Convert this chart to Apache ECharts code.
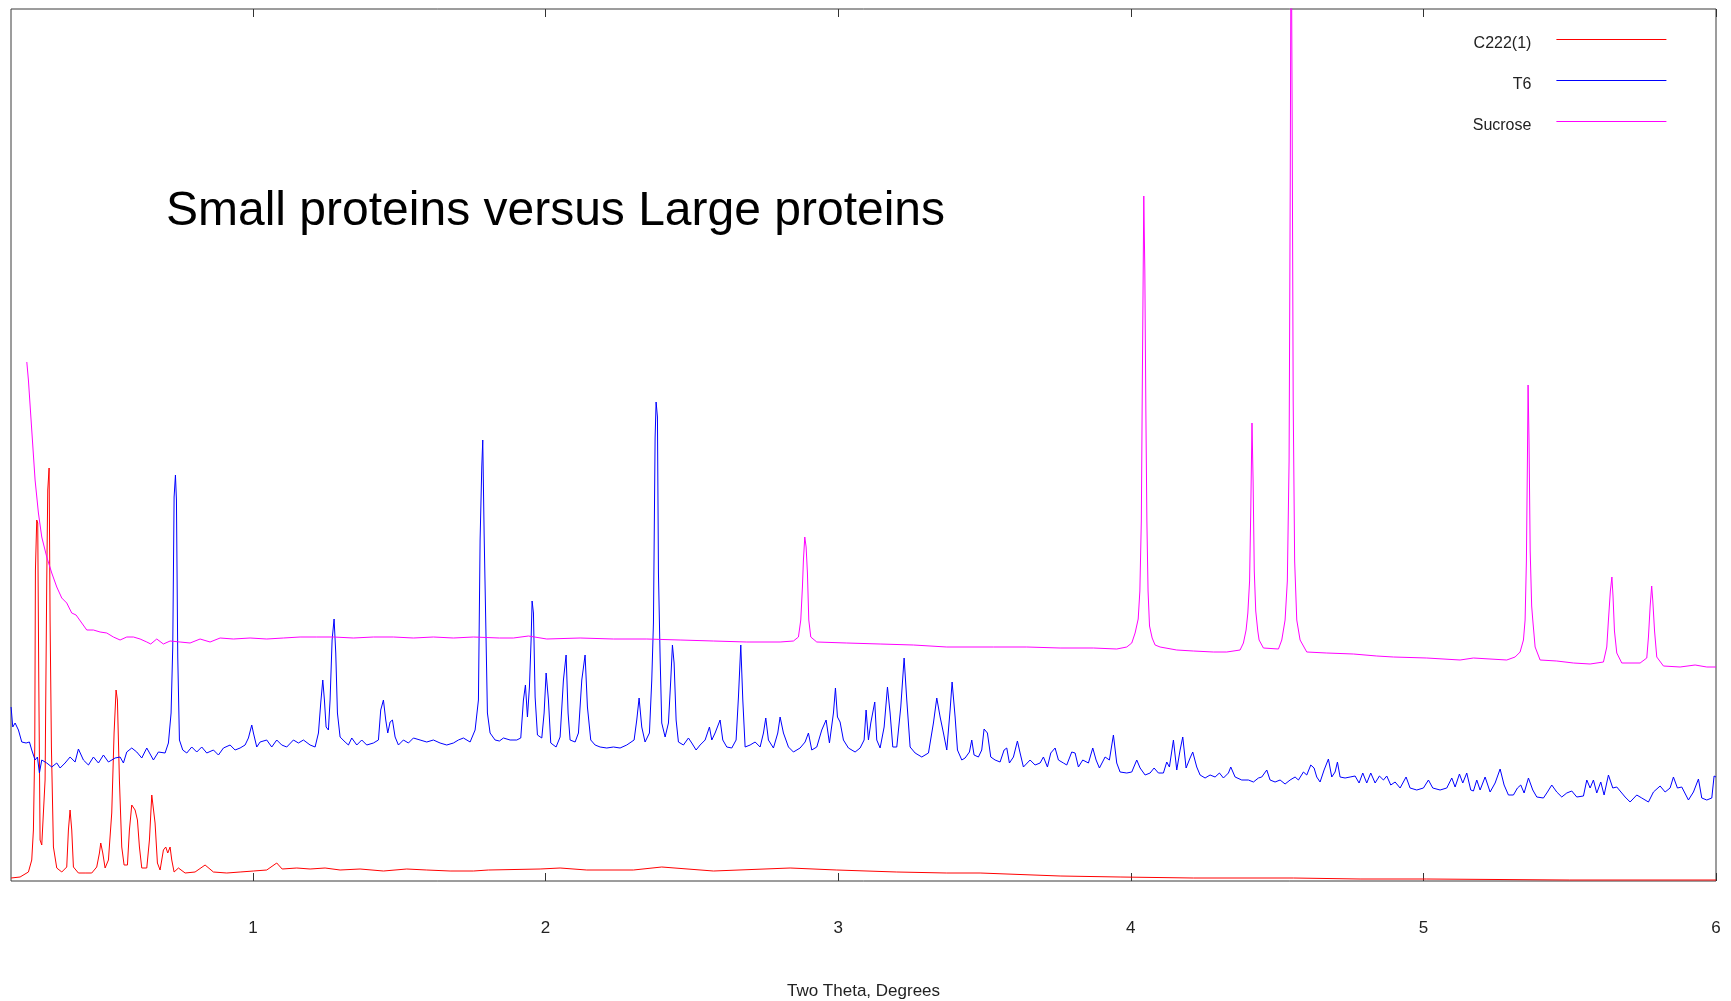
<!DOCTYPE html>
<html>
<head>
<meta charset="utf-8">
<script src="https://cdn.jsdelivr.net/npm/echarts@6/dist/echarts.min.js"></script>
<style>
html,body{margin:0;padding:0;background:#fff;}
#chart{width:1731px;height:1001px;}
</style>
</head>
<body>
<div id="chart"></div>
<script>
// Two Theta (degrees), relative intensity
const xTicks = [1, 2, 3, 4, 5, 6];
const seriesNames = ['C222(1)', 'T6', 'Sucrose'];
const titleText = 'Small proteins versus Large proteins';
const axisTitle = 'Two Theta, Degrees';

const c222 = [[0.1733,3],[0.204,4],[0.2325,9],[0.2439,21],[0.2496,51],[0.2542,134],[0.2565,311],[0.2610,361],[0.2644,358],[0.2679,201],[0.2724,41],[0.2781,36],[0.2838,34],[0.2895,101],[0.2952,301],[0.2986,391],[0.3032,413],[0.3066,261],[0.3111,134],[0.318,34],[0.3294,13],[0.3465,9],[0.3635,14],[0.3692,51],[0.3749,71],[0.3806,51],[0.3863,14],[0.4034,8],[0.4262,8],[0.449,8],[0.466,14],[0.4752,28],[0.4797,38],[0.4866,28],[0.4946,13],[0.506,21],[0.5173,68],[0.5253,148],[0.5321,191],[0.5367,181],[0.5435,101],[0.5515,34],[0.5595,16],[0.5709,16],[0.5777,51],[0.5857,76],[0.5971,71],[0.6051,61],[0.6119,34],[0.6199,13],[0.637,13],[0.6461,41],[0.6541,86],[0.6597,86],[0.6654,58],[0.6734,18],[0.6825,11],[0.6939,31],[0.7019,34],[0.7087,28],[0.7167,34],[0.7224,21],[0.7304,9],[0.7452,13],[0.768,8],[0.8021,9],[0.8363,16],[0.8648,9],[0.9104,8],[0.956,9],[1.0015,10],[1.047,11],[1.0812,18],[1.0997,12],[1.1496,13],[1.1952,12],[1.2464,13],[1.2977,11],[1.366,12],[1.4458,10],[1.5255,12],[1.5939,11],[1.6736,10],[1.7534,10],[1.8046,11],[1.9813,12],[2.0496,13],[2.1407,11],[2.3002,11],[2.397,14],[2.5737,10],[2.8357,13],[2.9951,11],[3.2002,9],[3.3711,8],[3.485,8],[3.7584,5],[3.9634,4],[4.214,3],[4.5558,3],[4.7836,2],[5.0115,2],[5.5,1],[6.0,1]];

const t6 = [[0.1733,174],[0.179,154],[0.187,158],[0.1984,151],[0.2098,139],[0.2246,138],[0.236,139],[0.2439,131],[0.2553,121],[0.2633,124],[0.2701,108],[0.2781,121],[0.2952,118],[0.3123,114],[0.3294,118],[0.3408,113],[0.3578,118],[0.3749,124],[0.392,119],[0.4034,132],[0.4205,121],[0.4376,116],[0.4547,124],[0.4718,118],[0.4889,126],[0.506,119],[0.5287,123],[0.5458,124],[0.5572,118],[0.5686,129],[0.5857,133],[0.6028,129],[0.6199,123],[0.637,133],[0.6597,121],[0.6768,129],[0.6996,128],[0.711,138],[0.7201,168],[0.7258,234],[0.7304,384],[0.735,406],[0.7384,381],[0.7429,224],[0.7486,141],[0.76,131],[0.7737,128],[0.7907,134],[0.8078,129],[0.8249,134],[0.842,128],[0.8648,131],[0.8819,126],[0.899,133],[0.9218,136],[0.9388,131],[0.9559,133],[0.973,136],[0.9844,143],[0.9958,156],[1.0015,148],[1.0129,134],[1.0243,139],[1.047,141],[1.0641,134],[1.0812,141],[1.0983,136],[1.1154,134],[1.1382,141],[1.1553,138],[1.1724,141],[1.1952,136],[1.2123,134],[1.2237,148],[1.2316,178],[1.2385,201],[1.2441,181],[1.2499,154],[1.2578,151],[1.2635,181],[1.2704,241],[1.2772,262],[1.2829,228],[1.2886,168],[1.2977,144],[1.3148,139],[1.3262,136],[1.3376,143],[1.3547,136],[1.3717,141],[1.3888,136],[1.4116,138],[1.4287,141],[1.4366,171],[1.4458,181],[1.4537,161],[1.4606,148],[1.4686,159],[1.4766,161],[1.4857,144],[1.4971,136],[1.5141,141],[1.5312,138],[1.5483,143],[1.5711,141],[1.5939,139],[1.6167,141],[1.6394,138],[1.6622,136],[1.685,138],[1.7021,141],[1.7192,143],[1.742,139],[1.7591,151],[1.7705,181],[1.7762,341],[1.7819,414],[1.7853,441],[1.7899,348],[1.7956,258],[1.8012,168],[1.8103,148],[1.8274,141],[1.8422,140],[1.856,143],[1.8787,141],[1.9015,141],[1.9152,143],[1.9243,181],[1.9311,196],[1.938,164],[1.9448,194],[1.9505,241],[1.9539,280],[1.9585,268],[1.9642,184],[1.9722,146],[1.987,143],[1.995,168],[2.0018,208],[2.0097,181],[2.0177,138],[2.0359,134],[2.0496,144],[2.061,201],[2.0701,226],[2.0769,168],[2.0838,141],[2.1009,139],[2.1123,148],[2.1237,201],[2.135,226],[2.143,174],[2.1544,141],[2.1692,136],[2.1863,134],[2.2091,133],[2.2319,134],[2.2546,133],[2.2774,136],[2.3025,141],[2.3116,161],[2.3196,183],[2.3287,154],[2.34,139],[2.3549,148],[2.3629,201],[2.3686,258],[2.3743,443],[2.3777,479],[2.3823,464],[2.3857,308],[2.3914,224],[2.397,158],[2.4085,144],[2.4199,158],[2.4278,201],[2.4335,236],[2.4392,218],[2.4461,161],[2.454,139],[2.4711,136],[2.4882,143],[2.4996,138],[2.5144,131],[2.5281,136],[2.5452,141],[2.56,154],[2.568,141],[2.5793,148],[2.5964,161],[2.6056,141],[2.6192,134],[2.6363,133],[2.6511,141],[2.6591,184],[2.6671,236],[2.674,181],[2.6819,134],[2.699,136],[2.7161,139],[2.7332,134],[2.7446,148],[2.7525,163],[2.7616,141],[2.7787,133],[2.7935,148],[2.8015,164],[2.8129,148],[2.83,134],[2.8471,129],[2.8698,133],[2.8869,139],[2.8983,148],[2.9097,131],[2.9268,134],[2.9439,151],[2.9587,161],[2.9701,138],[2.9838,168],[2.9906,193],[2.9975,164],[3.0065,159],[3.0179,141],[3.035,133],[3.0578,129],[3.0749,133],[3.0886,141],[3.0954,171],[3.1034,141],[3.1114,158],[3.125,179],[3.1318,141],[3.1433,133],[3.157,154],[3.1684,194],[3.1774,168],[3.1866,134],[3.2002,134],[3.2139,174],[3.2253,223],[3.2344,181],[3.2458,134],[3.2629,128],[3.2857,124],[3.3085,128],[3.3255,158],[3.3369,183],[3.3484,164],[3.3597,148],[3.3711,131],[3.3825,171],[3.3893,199],[3.3996,164],[3.4076,131],[3.4224,121],[3.4337,123],[3.4485,129],[3.4565,141],[3.4644,126],[3.4793,124],[3.4906,131],[3.4986,152],[3.51,148],[3.5214,124],[3.5362,121],[3.5533,119],[3.567,131],[3.5761,133],[3.5852,118],[3.5989,124],[3.6125,140],[3.6217,128],[3.633,114],[3.6558,121],[3.6729,116],[3.69,118],[3.7014,124],[3.7151,114],[3.7265,128],[3.7413,133],[3.7527,121],[3.7698,118],[3.7811,116],[3.7982,129],[3.8096,128],[3.821,114],[3.8358,121],[3.8552,118],[3.87,133],[3.8814,121],[3.8928,113],[3.9122,124],[3.9269,121],[3.9406,146],[3.952,118],[3.9634,109],[3.9862,108],[4.0033,109],[4.0204,121],[4.0318,113],[4.0489,106],[4.066,108],[4.0796,113],[4.0944,108],[4.1115,108],[4.1229,119],[4.132,114],[4.1457,141],[4.1571,111],[4.1685,131],[4.1776,144],[4.189,113],[4.2026,123],[4.2117,129],[4.2254,114],[4.2368,106],[4.2539,103],[4.271,106],[4.2881,104],[4.3029,108],[4.3166,103],[4.3337,108],[4.3417,114],[4.3565,104],[4.3792,101],[4.402,101],[4.4191,99],[4.4362,103],[4.4476,104],[4.4647,111],[4.476,101],[4.4931,99],[4.5102,101],[4.5273,97],[4.5444,101],[4.5615,104],[4.5729,101],[4.59,109],[4.6014,106],[4.6151,116],[4.6264,113],[4.6355,104],[4.6469,99],[4.6606,111],[4.6754,122],[4.6868,104],[4.6982,109],[4.7062,119],[4.7153,104],[4.7324,103],[4.7495,104],[4.7666,105],[4.7802,98],[4.7928,108],[4.8064,98],[4.8201,108],[4.835,98],[4.8497,105],[4.8634,101],[4.8748,105],[4.8885,96],[4.9033,99],[4.9204,93],[4.9408,104],[4.9545,93],[4.9773,91],[5.0001,93],[5.0172,101],[5.032,93],[5.0571,91],[5.0799,93],[5.097,103],[5.1084,94],[5.1232,107],[5.1346,98],[5.1482,108],[5.1619,91],[5.171,90],[5.1824,101],[5.1938,91],[5.2109,104],[5.228,89],[5.2451,98],[5.2622,112],[5.2758,96],[5.2906,86],[5.3077,86],[5.3214,93],[5.3328,96],[5.3442,88],[5.359,103],[5.3738,91],[5.3875,84],[5.4103,83],[5.424,89],[5.4387,96],[5.4558,89],[5.4729,84],[5.49,88],[5.5071,90],[5.5242,84],[5.547,85],[5.5584,101],[5.5698,93],[5.5811,101],[5.5925,88],[5.6062,99],[5.6176,86],[5.6324,106],[5.6472,93],[5.6609,94],[5.678,88],[5.6894,84],[5.7064,79],[5.7292,86],[5.7463,83],[5.7691,79],[5.7862,89],[5.809,95],[5.8261,89],[5.8431,93],[5.8545,104],[5.8682,93],[5.883,94],[5.9058,81],[5.9229,89],[5.94,102],[5.9514,83],[5.9685,81],[5.9856,83],[5.9935,105],[6.0,104]];

const sucrose = [[0.227,519],[0.2325,501],[0.2439,451],[0.2553,401],[0.2667,368],[0.2781,344],[0.2952,324],[0.3123,308],[0.3294,294],[0.3465,283],[0.3635,278],[0.3806,268],[0.3954,266],[0.4148,258],[0.4319,251],[0.4547,251],[0.4775,249],[0.5003,248],[0.523,244],[0.5458,241],[0.5686,244],[0.5914,244],[0.6142,242],[0.637,239],[0.6506,237],[0.6711,242],[0.6939,237],[0.7167,240],[0.7509,239],[0.785,238],[0.8192,242],[0.8534,239],[0.8876,243],[0.9331,242],[0.9901,243],[1.047,242],[1.104,243],[1.161,244],[1.218,244],[1.275,244],[1.3433,243],[1.4116,244],[1.48,244],[1.5483,243],[1.6167,244],[1.685,243],[1.7534,244],[1.8422,243],[1.8901,243],[1.9414,245],[2.004,242],[2.118,243],[2.2319,242],[2.3458,242],[2.4597,241],[2.5737,240],[2.6876,239],[2.8015,239],[2.8471,240],[2.8641,244],[2.8721,261],[2.8778,294],[2.8812,321],[2.8858,344],[2.8904,334],[2.8949,308],[2.8995,261],[2.9063,244],[2.9268,239],[3.0293,238],[3.1433,237],[3.2572,236],[3.3711,234],[3.5305,234],[3.6444,234],[3.7584,233],[3.8723,233],[3.952,232],[3.9862,234],[4.0033,238],[4.0147,248],[4.0253,262],[4.031,290],[4.036,360],[4.04,520],[4.0444,685],[4.048,610],[4.0515,470],[4.055,360],[4.059,290],[4.064,255],[4.073,243],[4.083,236],[4.1001,234],[4.157,231],[4.214,230],[4.2824,229],[4.328,229],[4.3735,231],[4.3849,238],[4.394,251],[4.4,268],[4.406,300],[4.41,370],[4.4142,458],[4.418,400],[4.422,310],[4.427,270],[4.434,250],[4.4385,241],[4.4533,233],[4.5046,232],[4.516,241],[4.5273,261],[4.535,300],[4.541,420],[4.545,700],[4.548,1000],[4.5515,760],[4.555,480],[4.56,320],[4.5672,261],[4.5786,241],[4.6014,229],[4.6697,228],[4.7609,227],[4.8406,225],[4.8976,224],[5.0115,223],[5.1254,221],[5.171,223],[5.2849,221],[5.3134,224],[5.3305,229],[5.3419,241],[5.3476,261],[5.352,320],[5.3555,420],[5.3578,496],[5.361,440],[5.365,330],[5.37,275],[5.3738,261],[5.3818,234],[5.3989,221],[5.4558,220],[5.5128,218],[5.5698,217],[5.6153,219],[5.6267,234],[5.6324,261],[5.639,290],[5.6442,304],[5.648,285],[5.653,250],[5.6609,228],[5.678,218],[5.7406,218],[5.7634,223],[5.7691,244],[5.775,275],[5.7802,295],[5.784,280],[5.79,250],[5.7976,224],[5.8204,215],[5.8773,214],[5.9286,216],[5.9685,214],[6.0,214]];

const FONT = "'Liberation Sans', Arial, Helvetica, sans-serif";
const chart = echarts.init(document.getElementById('chart'), null, {renderer: 'canvas'});

const lineSeries = (name, data, color) => ({
  name: name,
  type: 'line',
  data: data,
  symbol: 'none',
  showSymbol: false,
  clip: true,
  lineStyle: {color: color, width: 1},
  itemStyle: {color: color},
  emphasis: {disabled: true},
  animation: false
});

chart.setOption({
  backgroundColor: '#ffffff',
  animation: false,
  title: {
    text: titleText,
    left: 161,
    top: 183,
    textStyle: {fontFamily: FONT, fontSize: 48, fontWeight: 'normal', color: '#000000'}
  },
  legend: {
    orient: 'vertical',
    right: 64,
    top: 27,
    padding: 0,
    align: 'right',
    itemWidth: 110,
    itemHeight: 14,
    itemGap: 16,
    selectedMode: false,
    data: seriesNames,
    itemStyle: {opacity: 0},
    lineStyle: {width: 1.2},
    formatter: '{t|{name}}',
    textStyle: {fontFamily: FONT, fontSize: 16, color: '#222222', lineHeight: 20, padding: [0, 20, 0, 0],
      rich: {t: {fontFamily: FONT, fontSize: 16, color: '#222222', lineHeight: 20, padding: [9, 0, 0, 0]}}}
  },
  grid: {
    left: 11, right: 15, top: 9, bottom: 120,
    show: true, borderColor: '#3a3a3a', borderWidth: 1,
    containLabel: false, outerBoundsMode: 'none'
  },
  xAxis: [{
    type: 'value',
    min: 0.173, max: 6,
    position: 'bottom',
    name: axisTitle,
    nameLocation: 'middle',
    nameGap: 102,
    nameTextStyle: {fontFamily: FONT, fontSize: 17, color: '#222222'},
    axisLine: {show: false},
    splitLine: {show: false},
    axisTick: {show: true, inside: true, length: 8, customValues: xTicks, lineStyle: {color: '#333333', width: 1}},
    axisLabel: {show: true, margin: 39, customValues: xTicks, fontFamily: FONT, fontSize: 17, color: '#222222',
      formatter: v => String(v)}
  }, {
    type: 'value',
    min: 0.173, max: 6,
    position: 'top',
    axisLine: {show: false},
    splitLine: {show: false},
    axisTick: {show: true, inside: true, length: 8, customValues: xTicks, lineStyle: {color: '#333333', width: 1}},
    axisLabel: {show: false}
  }],
  yAxis: {
    type: 'value',
    min: 0, max: 872,
    show: true,
    axisLine: {show: false},
    axisTick: {show: false},
    axisLabel: {show: false},
    splitLine: {show: false}
  },
  series: [
    lineSeries(seriesNames[0], c222, '#ff0000'),
    lineSeries(seriesNames[1], t6, '#0000ff'),
    lineSeries(seriesNames[2], sucrose, '#ff00ff')
  ]
});
</script>
</body>
</html>
